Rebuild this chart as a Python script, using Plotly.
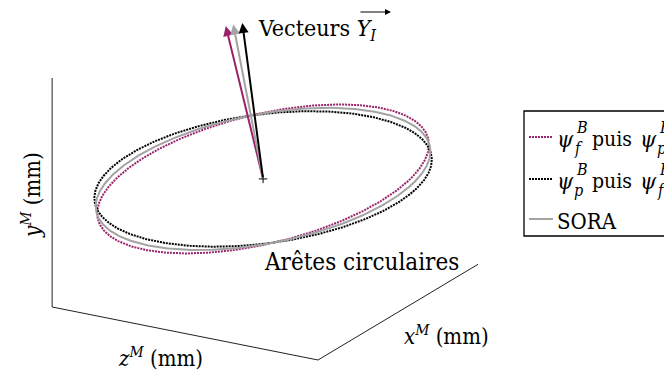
import numpy as np
import plotly.graph_objects as go

# Axis box limits (mm)
X_LIM = [0.0, 160.0]
Y_LIM = [0.0, 122.0]
Z_LIM = [0.0, 153.5]

# Fitted circular edge: common centre and radius (mm)
CENTRE = [78.0, 57.5, 76.75]
RADIUS = 85.0

# Y_I axis vector of each identification method (mm)
METHODS = ["fp", "pf", "sora"]
Y_I_FP = [-12.7, 82.9, 14.2]
Y_I_PF = [-8.1, 84.3, 7.3]
Y_I_SORA = [-10.6, 83.6, 11.1]

# View / drawing settings
AZ = np.radians(60.0)
EL = np.radians(20.2)
SCALE = 2.0            # px per mm
ORIGIN = (318.0, 360.0)
W, H = 664, 370
SERIF = "DejaVu Serif Condensed, DejaVu Serif"
MAGENTA = "#9a236b"
GRAY = "#a3a3a3"
BLACK = "#000000"


def project(x, y, z):
    x, y, z = np.asarray(x, float), np.asarray(y, float), np.asarray(z, float)
    px = ORIGIN[0] + SCALE * (x * np.cos(AZ) - z * np.sin(AZ))
    py = ORIGIN[1] - SCALE * (x * np.sin(AZ) * np.sin(EL)
                              + z * np.cos(AZ) * np.sin(EL)
                              + y * np.cos(EL))
    return px, py


def circle(centre, normal, r, n=721):
    c = np.asarray(centre, float)
    nrm = np.asarray(normal, float)
    nrm = nrm / np.linalg.norm(nrm)
    a = np.cross(nrm, [1.0, 0.0, 0.0])
    a /= np.linalg.norm(a)
    b = np.cross(nrm, a)
    t = np.linspace(0.0, 2.0 * np.pi, n)
    pts = c[:, None] + r * (np.outer(a, np.cos(t)) + np.outer(b, np.sin(t)))
    return project(*pts)


fig = go.Figure()

# Axis box edges
edges = [
    ([X_LIM[0], X_LIM[0]], [Y_LIM[0], Y_LIM[1]], [Z_LIM[1], Z_LIM[1]]),  # y^M
    ([X_LIM[0], X_LIM[0]], [Y_LIM[0], Y_LIM[0]], [Z_LIM[0], Z_LIM[1]]),  # z^M
    ([X_LIM[0], X_LIM[1]], [Y_LIM[0], Y_LIM[0]], [Z_LIM[0], Z_LIM[0]]),  # x^M
]
for ex, ey, ez in edges:
    px, py = project(ex, ey, ez)
    fig.add_trace(go.Scatter(x=px, y=py, mode="lines",
                             line=dict(color="#222222", width=1),
                             hoverinfo="skip"))

styles = {
    "fp": dict(vec=Y_I_FP, color=MAGENTA, dash="2px,1px"),
    "pf": dict(vec=Y_I_PF, color=BLACK, dash="2px,1px"),
    "sora": dict(vec=Y_I_SORA, color=GRAY, dash="solid"),
}

# Circular edges
for m in METHODS:
    s = styles[m]
    px, py = circle(CENTRE, s["vec"], RADIUS)
    fig.add_trace(go.Scatter(x=px, y=py, mode="lines",
                             line=dict(color=s["color"], width=2, dash=s["dash"]),
                             hoverinfo="skip"))

# Centre mark
cx, cy = project(*CENTRE)
fig.add_trace(go.Scatter(x=[float(cx)], y=[float(cy)], mode="markers",
                         marker=dict(symbol="cross-thin", size=6,
                                     line=dict(color="black", width=1)),
                         hoverinfo="skip"))

annotations = []
# Y_I vectors as arrows
for m in ["fp", "sora", "pf"]:
    s = styles[m]
    tip = [CENTRE[i] + s["vec"][i] for i in range(3)]
    tx, ty = project(*tip)
    annotations.append(dict(x=float(tx), y=float(ty), ax=float(cx), ay=float(cy),
                            xref="x", yref="y", axref="x", ayref="y",
                            text="", showarrow=True, arrowhead=2, arrowsize=1,
                            arrowwidth=2, arrowcolor=s["color"], standoff=0))


def label(x, y, text, size=22, xanchor="left", yanchor="middle", angle=0):
    annotations.append(dict(x=x, y=y, xref="x", yref="y", text=text,
                            showarrow=False, xanchor=xanchor, yanchor=yanchor,
                            textangle=angle,
                            font=dict(family=SERIF, size=size, color="black")))


label(256, 30, "Vecteurs <i>Y</i><sub><i>I</i></sub>", size=23)
annotations.append(dict(x=391, y=12, ax=359, ay=12, xref="x", yref="y",
                        axref="x", ayref="y", text="", showarrow=True,
                        arrowhead=2, arrowsize=1.2, arrowwidth=1,
                        arrowcolor="black", standoff=0))
label(262, 262, "Arêtes circulaires", size=24)
label(402, 335, "<i>x</i><sup><i>M</i></sup> (mm)")
label(116, 357, "<i>z</i><sup><i>M</i></sup> (mm)")
label(31, 195, "<i>y</i><sup><i>M</i></sup> (mm)", xanchor="center",
      yanchor="middle", angle=-90)

# Legend
LEG_X0, LEG_Y0, LEG_Y1 = 524, 111, 236
shapes = [dict(type="rect", xref="x", yref="y", x0=LEG_X0, x1=W + 40,
               y0=LEG_Y0, y1=LEG_Y1, line=dict(color="black", width=1.3),
               fillcolor="rgba(0,0,0,0)")]
rows = [("fp", 139, ("f", "p")), ("pf", 181, ("p", "f")), ("sora", 221, None)]
for m, ry, subs in rows:
    s = styles[m]
    fig.add_trace(go.Scatter(x=[529, 553], y=[ry - 2, ry - 2], mode="lines",
                             line=dict(color=s["color"], width=2, dash=s["dash"]),
                             hoverinfo="skip"))
    if subs is None:
        label(555, ry, "SORA", size=22)
        continue
    label(555, ry, "<i>ψ</i>", size=23)
    label(574, ry - 12, "<i>B</i>", size=16)
    label(572, ry + 9, "<i>" + subs[0] + "</i>", size=16)
    label(590, ry, "puis", size=21)
    label(638, ry, "<i>ψ</i>", size=23)
    label(657, ry - 12, "<i>B</i>", size=16)
    label(655, ry + 9, "<i>" + subs[1] + "</i>", size=16)

fig.update_layout(
    width=W, height=H,
    margin=dict(l=0, r=0, t=0, b=0, autoexpand=False),
    paper_bgcolor="white", plot_bgcolor="white",
    showlegend=False,
    font=dict(family=SERIF),
    xaxis=dict(range=[0, W], visible=False, fixedrange=True),
    yaxis=dict(range=[H, 0], visible=False, fixedrange=True),
    annotations=annotations,
    shapes=shapes,
)

fig.write_html("out.html")
